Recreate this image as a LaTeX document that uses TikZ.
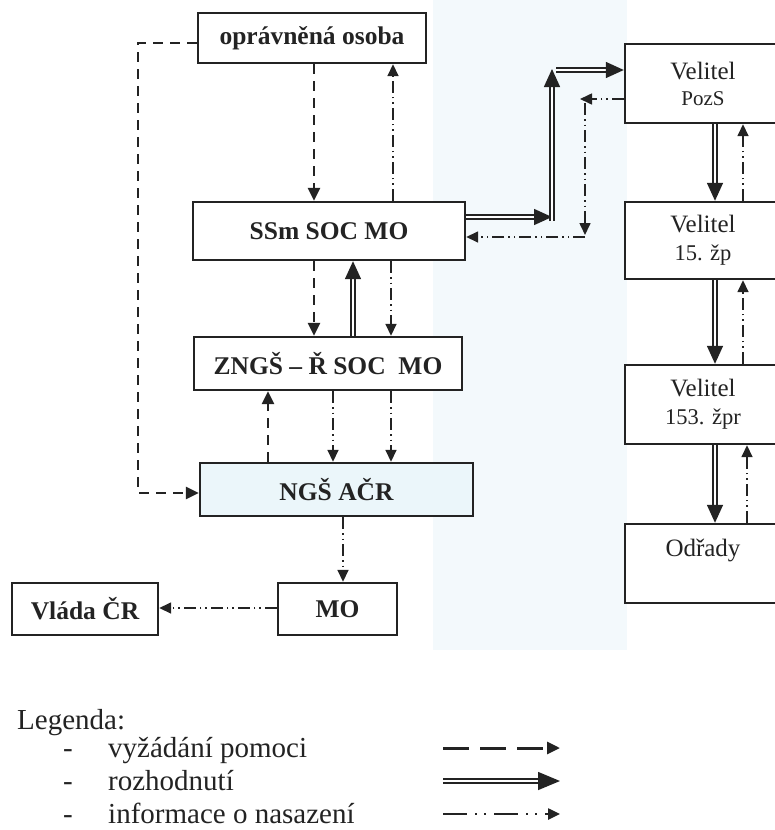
\documentclass[tikz,border=0pt]{standalone}
\usepackage{fontspec}
\setmainfont{Liberation Serif}
\usetikzlibrary{arrows.meta}
\definecolor{ink}{RGB}{35,35,35}
\definecolor{band}{RGB}{243,249,252}
\definecolor{ngsfill}{RGB}{235,246,250}
\begin{document}
\begin{tikzpicture}[x=1pt,y=-1pt,
  box/.style={draw=ink, line width=2.4pt, fill=white, inner sep=0pt, text=ink},
  bf/.style={font=\fontsize{25.5}{30}\selectfont\bfseries},
  rg/.style={font=\fontsize{25}{28}\selectfont, align=center, text=ink},
  lg/.style={font=\fontsize{29}{33}\selectfont, text=ink, inner sep=0pt},
  req/.style={draw=ink, line width=2.5pt, dash pattern=on 10pt off 7pt, -{Triangle[length=13pt,width=12pt]}},
  dec/.style={draw=ink, line width=1.5pt, double=white, double distance=2.6pt, -{Triangle[length=18pt,width=16pt]}},
  info/.style={draw=ink, line width=1.6pt, dash pattern=on 12pt off 4pt on 1.5pt off 4pt on 1.5pt off 4pt, -{Triangle[length=12pt,width=11pt]}},
]
\useasboundingbox (0,0) rectangle (774,830);
\fill[white] (0,0) rectangle (774,830);
\fill[band] (433,0) rectangle (627,650);

% boxes
\node[box,bf,minimum width=228pt,minimum height=50pt] (opr) at (312,38) {oprávněná osoba};
\node[box,bf,minimum width=272pt,minimum height=58pt] (ssm) at (329,231) {SSm SOC MO};
\node[box,bf,minimum width=268pt,minimum height=53pt] (zngs) at (328,363.5) {ZNGŠ – Ř SOC\ \ MO};
\node[box,bf,fill=ngsfill,minimum width=273pt,minimum height=53pt] (ngs) at (336.5,489.5) {NGŠ AČR};
\node[box,bf,minimum width=119pt,minimum height=52pt] (mo) at (337.5,609) {MO};
\node[box,bf,minimum width=146pt,minimum height=52pt] (vlada) at (85,609) {Vláda ČR};

\node[box,rg,minimum width=156pt,minimum height=79pt] (pozs) at (703,83.5) {Velitel\\[-2pt]{\fontsize{21}{26}\selectfont PozS}};
\node[box,rg,minimum width=156pt,minimum height=77pt] (zp) at (703,240.5) {Velitel\\{\fontsize{22.5}{28}\selectfont 15. žp}};
\node[box,rg,minimum width=156pt,minimum height=79pt] (zpr) at (703,404.5) {Velitel\\{\fontsize{22.5}{28}\selectfont 153. žpr}};
\node[box,minimum width=156pt,minimum height=79pt] (odr) at (703,563.5) {};
\node[rg] (odrt) at (703,550) {Odřady};

% helper coordinates
\coordinate (lx) at (138,0);
\coordinate (la) at ([yshift=-5pt]opr.west);
\coordinate (lb) at ([yshift=-3.5pt]ngs.west);
\coordinate (v268) at (268,0);
\coordinate (v314) at (314,0);
\coordinate (v333) at (333,0);
\coordinate (v343) at (343,0);
\coordinate (v353) at (353,0);
\coordinate (v391) at (391,0);
\coordinate (v393) at (393,0);
\coordinate (h608) at (0,608);
\coordinate (ka) at (552,217);
\coordinate (ka2) at (552,221);
\coordinate (kb) at (552,69);
\coordinate (kc) at (556,70);
\coordinate (ia) at (580,99);
\coordinate (ib) at (585,103);
\coordinate (ic) at (585,235);
\coordinate (id) at (585,237);
\coordinate (r715) at (715,0);
\coordinate (r743) at (743,0);
\coordinate (r747) at (747,0);

% vyzadani pomoci
\draw[req] (la) -- (la -| lx) -- (lb -| lx) -- (lb);
\draw[req] (opr.south -| v314) -- (ssm.north -| v314);
\draw[req] (ssm.south -| v314) -- (zngs.north -| v314);
\draw[req] (ngs.north -| v268) -- (zngs.south -| v268);

% rozhodnuti
\draw[dec] (zngs.north -| v353) -- (ssm.south -| v353);
\draw[dec] (ssm.east |- ka) -- (ka);
\draw[dec] (kc) -- (pozs.west |- kc);
\draw[dec] (ka2) -- (kb);
\draw[dec] (pozs.south -| r715) -- (zp.north -| r715);
\draw[dec] (zp.south -| r715) -- (zpr.north -| r715);
\draw[dec] (zpr.south -| r715) -- (odr.north -| r715);

% informace o nasazeni
\draw[info] (ssm.north -| v393) -- (opr.south -| v393);
\draw[info] (ssm.south -| v391) -- (zngs.north -| v391);
\draw[info] (zngs.south -| v333) -- (ngs.north -| v333);
\draw[info] (zngs.south -| v391) -- (ngs.north -| v391);
\draw[info] (ngs.south -| v343) -- (mo.north -| v343);
\draw[info] (mo.west |- h608) -- (vlada.east |- h608);
\draw[info] (pozs.west |- ia) -- (ia);
\draw[info] (ib) -- (ic);
\draw[info] (id) -- (ssm.east |- id);
\draw[info] (zp.north -| r743) -- (pozs.south -| r743);
\draw[info] (zpr.north -| r743) -- (zp.south -| r743);
\draw[info] (odr.north -| r747) -- (zpr.south -| r747);

% legend
\node[lg,anchor=base west] (leg) at (17,729) {Legenda:};
\node[lg,anchor=base west] (m1) at (63,757) {-};
\node[lg,anchor=base west] (m2) at (63,790) {-};
\node[lg,anchor=base west] (m3) at (63,823) {-};
\node[lg,anchor=base west] (t1) at (108,757) {vyžádání pomoci};
\node[lg,anchor=base west] (t2) at (108,790) {rozhodnutí};
\node[lg,anchor=base west] (t3) at (108,823) {informace o nasazení};
\coordinate (a1s) at (443,748); \coordinate (a1e) at (560,748);
\coordinate (a2s) at (443,781); \coordinate (a2e) at (560,781);
\coordinate (a3s) at (443,814); \coordinate (a3e) at (560,814);
\draw[req, line width=3pt, dash pattern=on 26pt off 11pt, -{Triangle[length=13pt,width=12pt]}] (a1s) -- (a1e);
\draw[dec, -{Triangle[length=22pt,width=18pt]}] (a2s) -- (a2e);
\draw[info, line width=2.5pt, dash pattern=on 24pt off 8pt on 2pt off 7pt on 2pt off 8pt, -{Triangle[length=12pt,width=11pt]}] (a3s) -- (a3e);
\end{tikzpicture}
\end{document}
